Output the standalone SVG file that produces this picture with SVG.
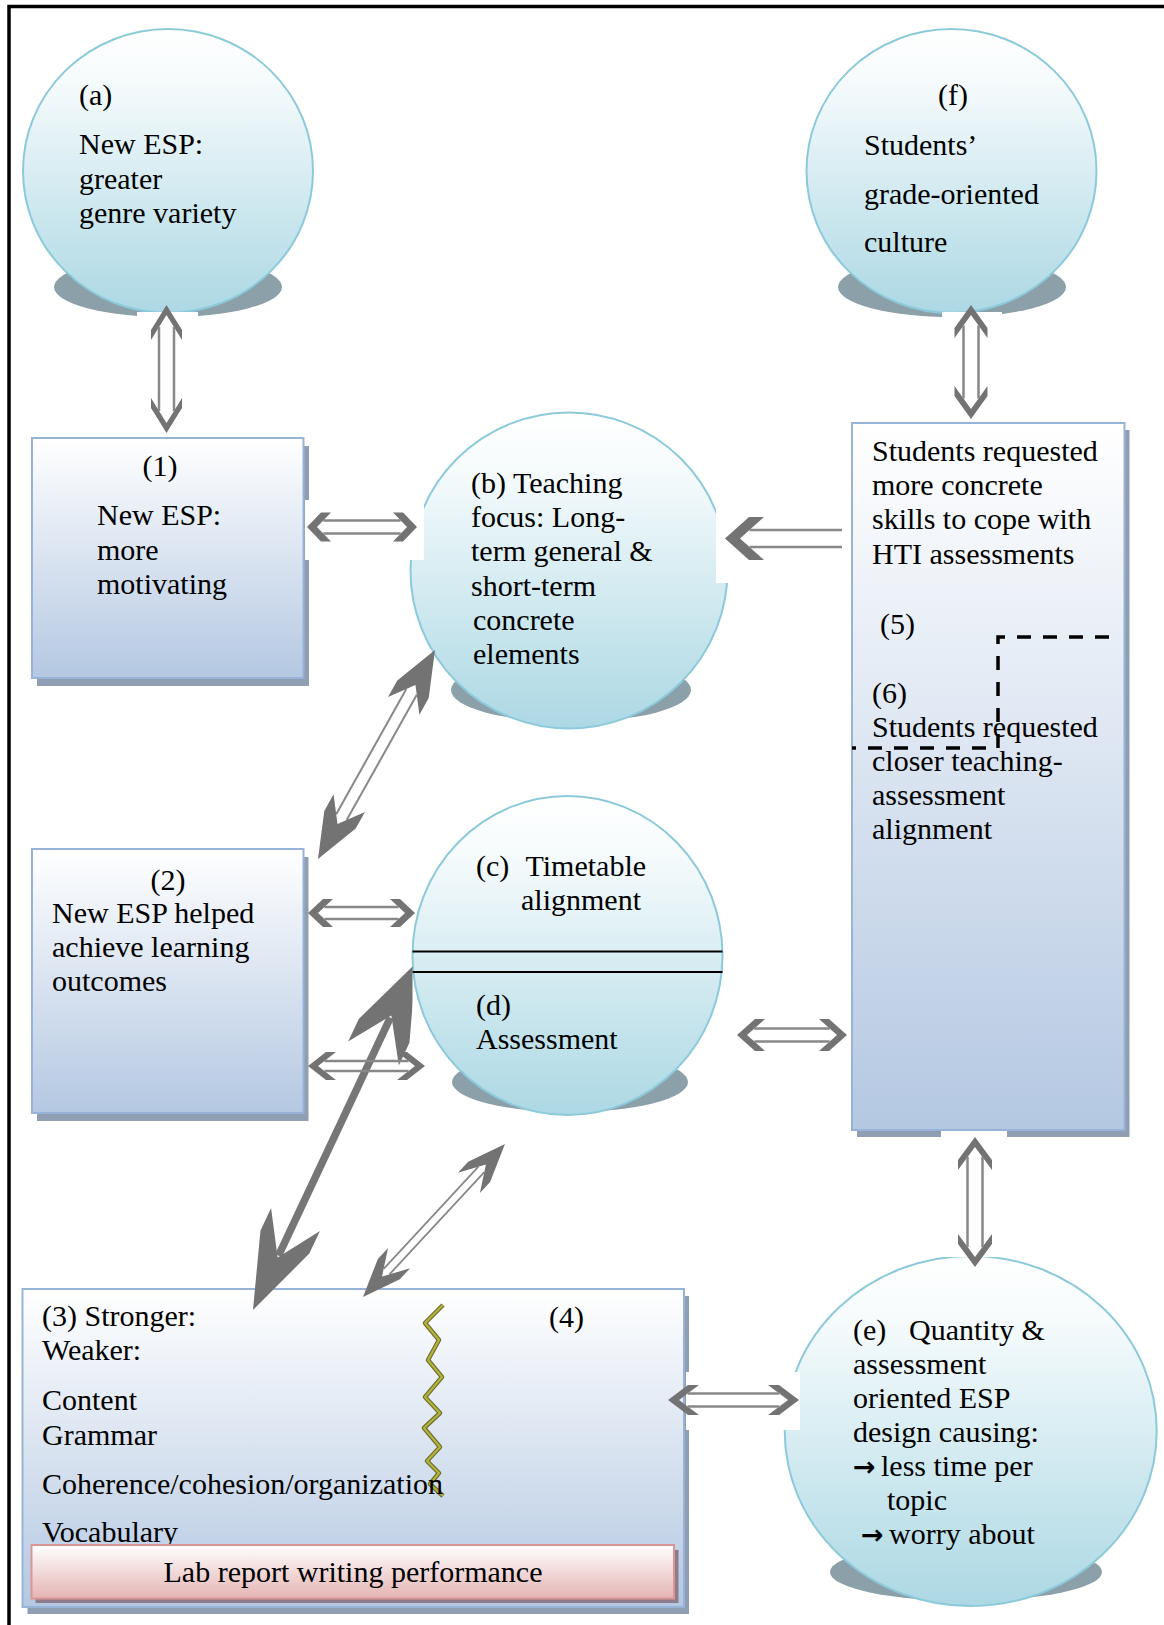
<svg xmlns="http://www.w3.org/2000/svg" width="1164" height="1625" viewBox="0 0 1164 1625">
<defs>
  <linearGradient id="gCircle" x1="0" y1="0" x2="0" y2="1">
    <stop offset="0" stop-color="#ffffff"/>
    <stop offset="0.18" stop-color="#f6fbfc"/>
    <stop offset="1" stop-color="#acd8e4"/>
  </linearGradient>
  <linearGradient id="gBox" x1="0" y1="0" x2="0" y2="1">
    <stop offset="0" stop-color="#ffffff"/>
    <stop offset="1" stop-color="#b4c8e2"/>
  </linearGradient>
  <linearGradient id="gPink" x1="0" y1="0" x2="0" y2="1">
    <stop offset="0" stop-color="#ffffff"/>
    <stop offset="1" stop-color="#e4b4b3"/>
  </linearGradient>
  <clipPath id="clipBig" clipPathUnits="userSpaceOnUse">
    <rect x="0" y="0" width="412.5" height="1625"/>
  </clipPath>
</defs>
<style>
  .t{font-family:"Liberation Serif","Times New Roman",serif;font-size:30px;fill:#000}
  .m{text-anchor:middle}
  .ar{font-family:"DejaVu Sans",sans-serif;font-size:27px;font-weight:bold}
  .circ{fill:url(#gCircle);stroke:#8ccadb;stroke-width:2}
  .csh{fill:#8ca0aa}
  .box{fill:url(#gBox);stroke:#97b4d8;stroke-width:2}
  .bsh{fill:#8f9eb3}
  .head{fill:#737373}
  .shaft{stroke:#888888;stroke-width:2.5;fill:none}
  .bg{fill:#ffffff}
</style>
<rect x="0" y="0" width="1164" height="1625" fill="#ffffff"/>
<path id="frame" d="M9,1625 V6.5 H1164" fill="none" stroke="#000" stroke-width="3.5"/>

<g id="node-a">
  <ellipse class="csh" cx="168" cy="287" rx="114" ry="30"/>
  <ellipse class="circ" cx="168" cy="171" rx="145" ry="142"/>
  <text class="t" x="79" y="105">(a)</text>
  <text class="t" x="79" y="154">New ESP:</text>
  <text class="t" x="79" y="188.5">greater</text>
  <text class="t" x="79" y="223">genre variety</text>
</g>

<g id="node-f">
  <ellipse class="csh" cx="952" cy="287" rx="114" ry="30"/>
  <ellipse class="circ" cx="951.5" cy="171" rx="145" ry="142"/>
  <text class="t" x="938" y="105">(f)</text>
  <text class="t" x="864" y="155">Students’</text>
  <text class="t" x="864" y="204">grade-oriented</text>
  <text class="t" x="864" y="252">culture</text>
</g>

<g id="node-1">
  <rect class="bsh" x="37" y="446" width="272" height="240"/>
  <rect class="box" x="32" y="438" width="271.5" height="240"/>
  <text class="t m" x="160" y="476">(1)</text>
  <text class="t" x="97" y="525">New ESP:</text>
  <text class="t" x="97" y="559.5">more</text>
  <text class="t" x="97" y="594">motivating</text>
</g>

<g id="node-b">
  <ellipse class="csh" cx="571" cy="690" rx="120" ry="32"/>
  <ellipse class="circ" cx="569" cy="570.5" rx="158.5" ry="158"/>
  <text class="t" x="471" y="493">(b) Teaching</text>
  <text class="t" x="471" y="527">focus: Long-</text>
  <text class="t" x="471" y="561">term general &amp;</text>
  <text class="t" x="471" y="596">short-term</text>
  <text class="t" x="473" y="630">concrete</text>
  <text class="t" x="473" y="664">elements</text>
</g>

<g id="node-5-6">
  <rect class="bsh" x="857" y="430" width="272.5" height="707"/>
  <rect class="box" x="852" y="423" width="272.5" height="707"/>
  <text class="t" x="872" y="461">Students requested</text>
  <text class="t" x="872" y="495">more concrete</text>
  <text class="t" x="872" y="529">skills to cope with</text>
  <text class="t" x="872" y="564">HTI assessments</text>
  <text class="t" x="880" y="634">(5)</text>
  <text class="t" x="872" y="703">(6)</text>
  <text class="t" x="872" y="737">Students requested</text>
  <text class="t" x="872" y="771">closer teaching-</text>
  <text class="t" x="872" y="805">assessment</text>
  <text class="t" x="872" y="839">alignment</text>
  <path d="M1109,637 H998 V748 H852" fill="none" stroke="#000" stroke-width="3.5" stroke-dasharray="14 12"/>
</g>

<g id="node-2">
  <rect class="bsh" x="37" y="857" width="271.5" height="264"/>
  <rect class="box" x="32" y="849" width="271.5" height="264"/>
  <text class="t m" x="168" y="890">(2)</text>
  <text class="t" x="52" y="923">New ESP helped</text>
  <text class="t" x="52" y="957">achieve learning</text>
  <text class="t" x="52" y="991">outcomes</text>
</g>

<g id="node-c-d">
  <ellipse class="csh" cx="570" cy="1082" rx="118" ry="30"/>
  <ellipse class="circ" cx="567.5" cy="955.5" rx="155" ry="159.5"/>
  <line x1="412.5" y1="951.5" x2="722.5" y2="951.5" stroke="#000" stroke-width="2.2"/>
  <line x1="412.5" y1="972" x2="722.5" y2="972" stroke="#000" stroke-width="2.2"/>
  <text class="t" x="476" y="876">(c)<tspan x="525.5">Timetable</tspan></text>
  <text class="t" x="521" y="910">alignment</text>
  <text class="t" x="476" y="1015">(d)</text>
  <text class="t" x="476" y="1049">Assessment</text>
</g>

<g id="node-3-4">
  <rect class="bsh" x="27.5" y="1296" width="661.5" height="318"/>
  <rect class="box" x="22.5" y="1289" width="661.5" height="318"/>
  <polyline points="443,1305 425,1323 439,1340 428,1360 442,1377 425,1397 440,1413 424,1428 440,1447 427,1461 439,1473 430,1484 443,1496" fill="none" stroke="#6d6d2c" stroke-width="4.5" stroke-linejoin="round"/>
  <polyline points="443,1305 425,1323 439,1340 428,1360 442,1377 425,1397 440,1413 424,1428 440,1447 427,1461 439,1473 430,1484 443,1496" fill="none" stroke="#b2b43c" stroke-width="2.2" stroke-linejoin="round"/>
  <text class="t" x="42" y="1326">(3) Stronger:</text>
  <text class="t" x="42" y="1360">Weaker:</text>
  <text class="t" x="42" y="1410">Content</text>
  <text class="t" x="42" y="1445">Grammar</text>
  <text class="t" x="42" y="1494">Coherence/cohesion/organization</text>
  <text class="t" x="42" y="1542">Vocabulary</text>
  <text class="t" x="549" y="1327">(4)</text>
</g>

<g id="node-lab">
  <rect x="35.5" y="1550" width="643" height="53" fill="#8d7d8b"/>
  <rect x="31.5" y="1545" width="642.5" height="53.5" fill="url(#gPink)" stroke="#d99694" stroke-width="2"/>
  <text class="t m" x="353" y="1582">Lab report writing performance</text>
</g>

<g id="node-e">
  <ellipse class="csh" cx="966" cy="1572" rx="136" ry="29"/>
  <ellipse class="circ" cx="970.7" cy="1431" rx="186" ry="175"/>
  <text class="t" x="853" y="1340">(e)<tspan x="909">Quantity &amp;</tspan></text>
  <text class="t" x="853" y="1374">assessment</text>
  <text class="t" x="853" y="1408">oriented ESP</text>
  <text class="t" x="853" y="1442">design causing:</text>
  <text class="t" x="853" y="1476"><tspan class="ar">→</tspan><tspan x="881">less time per</tspan></text>
  <text class="t" x="887" y="1510">topic</text>
  <text class="t" x="861" y="1544"><tspan class="ar">→</tspan><tspan x="889">worry about</tspan></text>
</g>

<g id="connectors">
  <rect class="bg" x="137" y="312" width="61" height="124"/>
  <rect class="bg" x="942" y="312" width="60" height="109"/>
  <rect class="bg" x="941" y="1131" width="66" height="126"/>
  <rect class="bg" x="305" y="500" width="119" height="60"/>
  <rect class="bg" x="716" y="500" width="135" height="83"/>
  <rect class="bg" x="730" y="1007" width="121" height="58"/>
  <rect class="bg" x="686" y="1372" width="114" height="58"/>

  <g clip-path="url(#clipBig)">
    <g transform="translate(253,1310) rotate(-64.84)">
      <path class="head" d="M0,0 L75,-27 L100,-27 L58,0 L100,27 L75,27Z"/>
      <path class="head" d="M383.4,0 L308.4,-28 L283.4,-28 L325.4,0 L283.4,28 L308.4,28Z"/>
      <path d="M60,0 H323" stroke="#767676" stroke-width="7.5" fill="none"/>
    </g>
  </g>

  <g transform="translate(166.5,305) rotate(90)">
    <path class="head" d="M0,0 L25,-15.5 L35,-15.5 L10,0 L35,15.5 L25,15.5Z"/>
    <path class="head" d="M128,0 L103,-15.5 L93,-15.5 L118,0 L93,15.5 L103,15.5Z"/>
    <path class="shaft" d="M22,-7.5 H106 M22,7.5 H106"/>
  </g>
  <g transform="translate(971,305) rotate(90)">
    <path class="head" d="M0,0 L23,-16.5 L33,-16.5 L10,0 L33,16.5 L23,16.5Z"/>
    <path class="head" d="M114,0 L91,-16.5 L81,-16.5 L104,0 L81,16.5 L91,16.5Z"/>
    <path class="shaft" d="M20.5,-7.5 H93.5 M20.5,7.5 H93.5"/>
  </g>
  <g transform="translate(975,1137) rotate(90)">
    <path class="head" d="M0,0 L23,-17 L33,-17 L10,0 L33,17 L23,17Z"/>
    <path class="head" d="M130,0 L107,-17 L97,-17 L120,0 L97,17 L107,17Z"/>
    <path class="shaft" d="M20,-7.5 H110 M20,7.5 H110"/>
  </g>
  <g transform="translate(307,527)">
    <path class="head" d="M0,0 L14,-14.5 L24,-14.5 L10,0 L24,14.5 L14,14.5Z"/>
    <path class="head" d="M110,0 L96,-14.5 L86,-14.5 L100,0 L86,14.5 L96,14.5Z"/>
    <path class="shaft" d="M16.3,-6.5 H93.7 M16.3,6.5 H93.7"/>
  </g>
  <g transform="translate(725,538.5)">
    <path class="head" d="M0,0 L24,-21.5 L39,-21.5 L15,0 L39,21.5 L24,21.5Z"/>
    <path class="shaft" d="M24.5,-8.5 H117 M24.5,8.5 H117"/>
  </g>
  <g transform="translate(318,859) rotate(-60.76)">
    <path class="head" d="M0,0 L45,-18 L64,-18 L40,0 L64,18 L45,18Z"/>
    <path class="head" d="M239.5,0 L194.5,-18 L175.5,-18 L199.5,0 L175.5,18 L194.5,18Z"/>
    <path class="shaft" style="stroke-width:2" d="M48,-6 H191.5 M48,6 H191.5"/>
  </g>
  <g transform="translate(308,913)">
    <path class="head" d="M0,0 L15,-14 L25,-14 L10,0 L25,14 L15,14Z"/>
    <path class="head" d="M107,0 L92,-14 L82,-14 L97,0 L82,14 L92,14Z"/>
    <path class="shaft" d="M16.4,-6 H90.6 M16.4,6 H90.6"/>
  </g>
  <g transform="translate(308,1066)">
    <path class="head" d="M0,0 L18,-14 L28,-14 L10,0 L28,14 L18,14Z"/>
    <path class="head" d="M117,0 L99,-14 L89,-14 L107,0 L89,14 L99,14Z"/>
    <path class="shaft" d="M16.4,-5 H100.6 M16.4,5 H100.6"/>
  </g>
  <g transform="translate(737,1035)">
    <path class="head" d="M0,0 L18,-16 L28,-16 L10,0 L28,16 L18,16Z"/>
    <path class="head" d="M110,0 L92,-16 L82,-16 L100,0 L82,16 L92,16Z"/>
    <path class="shaft" d="M17.3,-6.5 H92.7 M17.3,6.5 H92.7"/>
  </g>
  <g transform="translate(363,1297) rotate(-47.14)">
    <path class="head" d="M0,0 L38,-15 L53,-15 L28,0 L53,15 L38,15Z"/>
    <path class="head" d="M208.7,0 L170.7,-15 L155.7,-15 L180.7,0 L155.7,15 L170.7,15Z"/>
    <path class="shaft" style="stroke-width:1.8" d="M34.7,-4 H174 M34.7,4 H174"/>
  </g>
  <g transform="translate(668,1400)">
    <path class="head" d="M0,0 L20,-15 L31,-15 L11,0 L31,15 L20,15Z"/>
    <path class="head" d="M131,0 L111,-15 L100,-15 L120,0 L100,15 L111,15Z"/>
    <path class="shaft" d="M19.7,-6.5 H111.3 M19.7,6.5 H111.3"/>
  </g>
</g>
</svg>
